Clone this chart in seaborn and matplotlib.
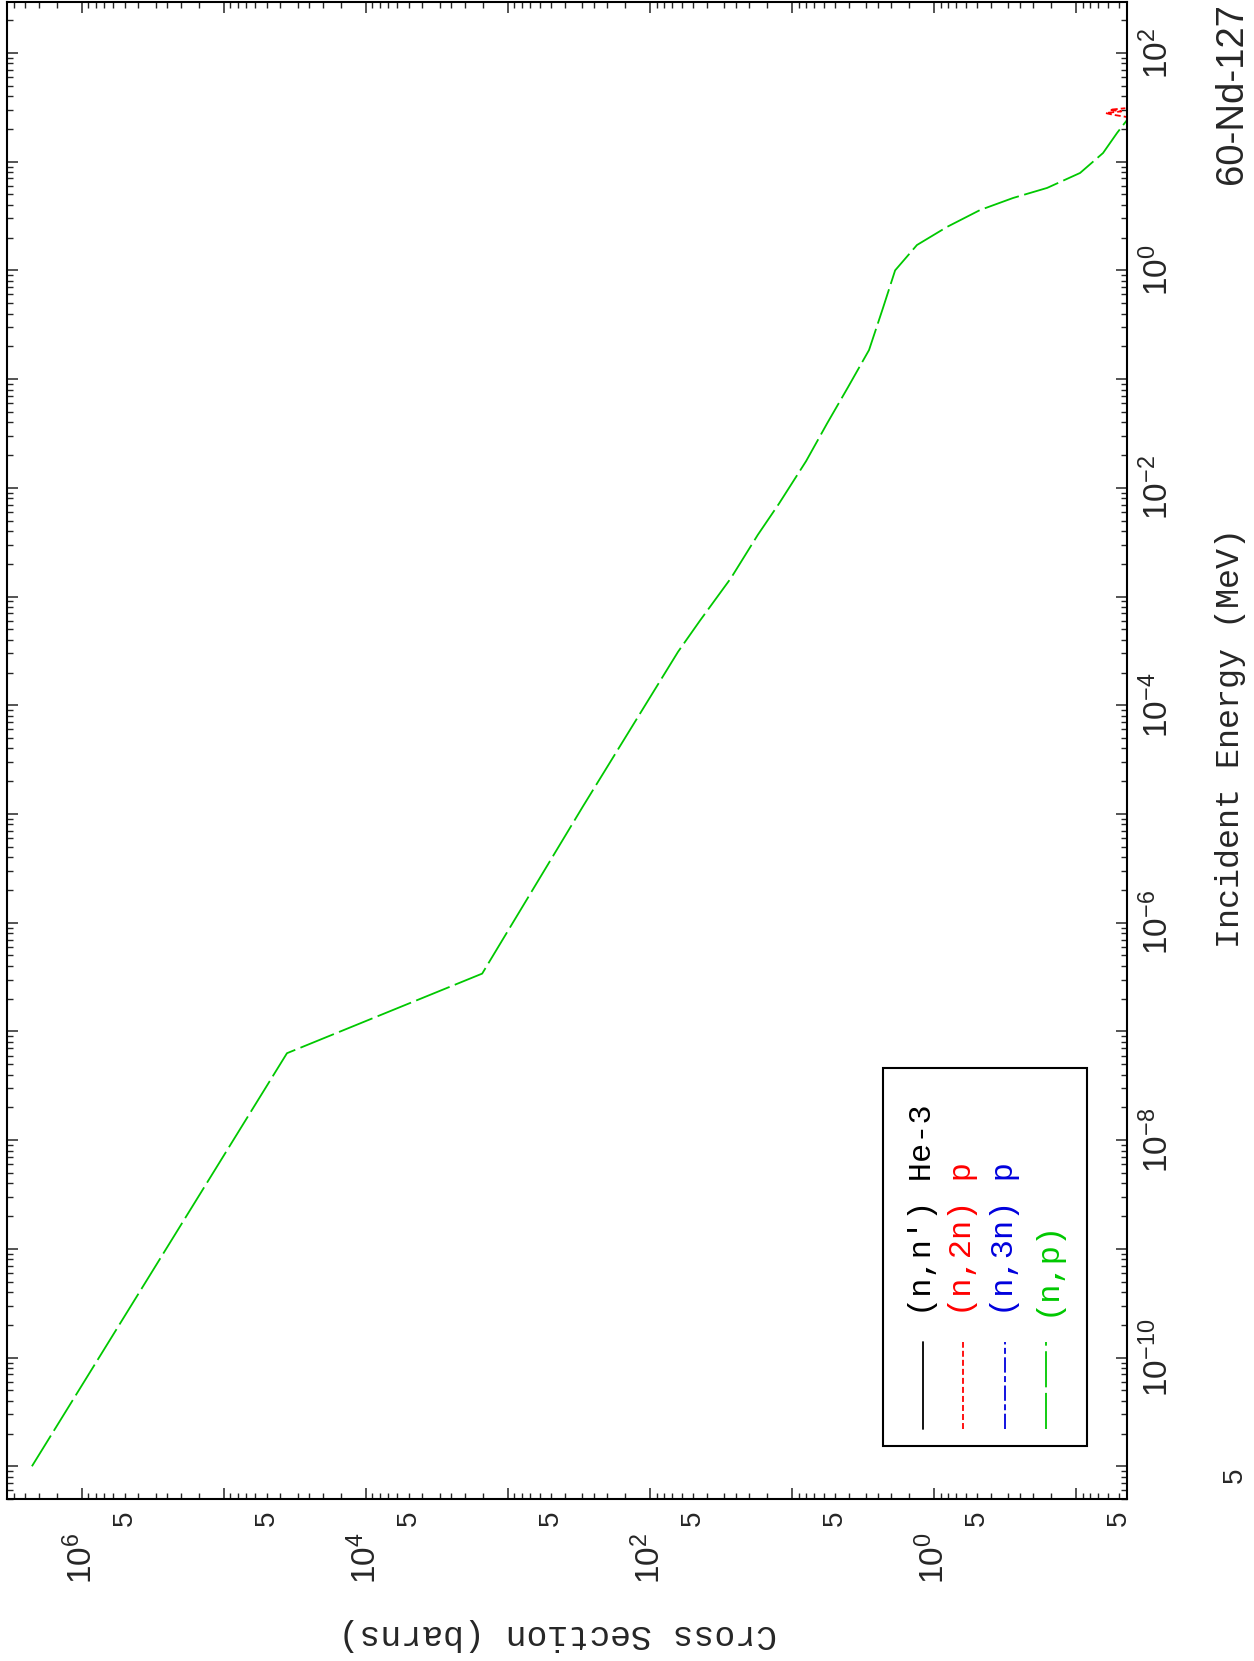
import numpy as np
import matplotlib
matplotlib.use("Agg")
import matplotlib.pyplot as plt
import matplotlib.ticker as mticker
import matplotlib.transforms as mtransforms
from matplotlib.patches import Rectangle
from matplotlib.lines import Line2D
import seaborn as sns

# (n,p) cross section of 60-Nd-127
np_energy = [1.0e-11, 6.3e-8, 3.4e-7, 1.18e-5, 3.1e-4, 6.0e-4, 1.48e-3, 3.7e-3,
             7.1e-3, 1.76e-2, 3.9e-2, 8.4e-2, 0.185, 0.45, 1.0, 1.71, 2.51,
             3.59, 4.63, 5.73, 7.87, 12.0, 18.4, 24.2, 33.0]
np_xs = [2.25e6, 3.6e4, 1.52e3, 296, 63.5, 44.5, 26.9, 17.4,
         12.4, 7.96, 5.67, 4.04, 2.87, 2.29, 1.88, 1.32, 0.81,
         0.474, 0.278, 0.160, 0.0937, 0.0646, 0.0514, 0.0437, 0.035]

# (n,2n) only shows up as a tiny piece at the right edge
n2n_energy = [25.5, 27.0, 28.0, 29.0, 30.0, 31.0]
n2n_xs = [0.042, 0.055, 0.062, 0.048, 0.058, 0.045]

legend_labels = ["(n,n') He-3", "(n,2n) p", "(n,3n) p", "(n,p)"]
legend_colors = ["black", "#ff0000", "#0000dd", "#00c800"]
legend_styles = ["-", (0, (4.3, 2.2)), (0, (11, 2.5, 4.3, 2.5)), (0, (26, 4))]

sns.set_style("white")
plt.rcParams['font.family'] = ['Liberation Sans', 'DejaVu Sans']
plt.rcParams['mathtext.fontset'] = 'custom'
plt.rcParams['mathtext.rm'] = 'Liberation Sans'
plt.rcParams['mathtext.default'] = 'regular'
plt.rcParams['lines.scale_dashes'] = False

W, H = 1254, 1661
left, right, top, bottom = 7, 1127, 2, 1499
fig = plt.figure(figsize=(W / 100, H / 100), dpi=100)
ax = fig.add_axes([left / W, 1 - bottom / H, (right - left) / W, (bottom - top) / H])
ax.set_xscale('log')
ax.set_yscale('log')

# the plot is turned on its side: cross section runs along x (reversed), energy up y
sns.lineplot(x=np_xs, y=np_energy, sort=False, estimator=None, ax=ax,
             color=legend_colors[3], lw=1.3, linestyle=legend_styles[3])
sns.lineplot(x=n2n_xs, y=n2n_energy, sort=False, estimator=None, ax=ax,
             color=legend_colors[1], lw=1.3, linestyle=legend_styles[1])

ax.set_xlim(3.37e6, 0.0438)
ax.set_ylim(5.0e-12, 294)


def even_decade(v, pos):
    e = int(round(np.log10(v)))
    return f"$10^{{{e}}}$" if e % 2 == 0 else ""


def five_only(v, pos):
    m = v / 10 ** np.floor(np.log10(v) + 1e-9)
    return "5" if abs(m - 5) < 0.01 else ""


ax.xaxis.set_major_locator(mticker.LogLocator(base=10, numticks=50))
ax.xaxis.set_minor_locator(mticker.LogLocator(base=10, subs=[1.5, 2, 2.5, 3, 4, 5, 6, 7, 8, 9], numticks=50))
ax.xaxis.set_major_formatter(mticker.FuncFormatter(even_decade))
ax.xaxis.set_minor_formatter(mticker.FuncFormatter(five_only))

ax.yaxis.set_major_locator(mticker.LogLocator(base=10, numticks=50))
ax.yaxis.set_minor_locator(mticker.LogLocator(base=10, subs=np.arange(2, 10), numticks=50))
ax.yaxis.set_major_formatter(mticker.FuncFormatter(even_decade))
ax.yaxis.set_minor_formatter(mticker.NullFormatter())

ax.tick_params(which='both', direction='in', top=True, bottom=True, left=True, right=True,
               labelbottom=True, labelleft=False, labelright=True, labeltop=False)
ax.tick_params(which='major', length=8, width=1.1, labelsize=24)
ax.tick_params(which='minor', length=4.3, width=1.0, labelsize=20)
ax.tick_params(axis='x', which='major', pad=24, labelrotation=90)
ax.tick_params(axis='x', which='minor', pad=8, labelrotation=90)
ax.tick_params(axis='y', which='major', pad=10, labelrotation=90)
for lab in ax.get_yticklabels():
    lab.set_va('center')
for s in ax.spines.values():
    s.set_linewidth(1.5)
    s.set_color('black')
ax.grid(False)

# the lone "5" at the low end of the energy axis
five_tr = mtransforms.blended_transform_factory(ax.transAxes, ax.transData) + \
    mtransforms.ScaledTranslation(68 / 72, 17 / 72, fig.dpi_scale_trans)
ax.text(1, 5.0e-12, "5", transform=five_tr, rotation=90, ha='left', va='center',
        fontsize=20, clip_on=False)

# legend, drawn sideways like the rest
legend_x = [0.818, 0.854, 0.891, 0.928]
for lx, lab, col, ls in zip(legend_x, legend_labels, legend_colors, legend_styles):
    ax.add_line(Line2D([lx, lx], [0.0467, 0.1048], transform=ax.transAxes,
                       color=col, lw=1.3, linestyle=ls))
    ax.text(lx, 0.1222, lab, transform=ax.transAxes, rotation=90, ha='center',
            va='bottom', color=col, family='Liberation Mono', size=23)
ax.add_patch(Rectangle((0.782, 0.0354), 0.182, 0.2523, transform=ax.transAxes,
                       fill=False, lw=1.5, ec='black'))

fig.text(1231 / W, 1 - 738 / H, "Incident Energy (MeV)", rotation=90, ha='center',
         va='center', family='Liberation Mono', size=24)
fig.text(558 / W, 1 - 1634 / H, "Cross Section (barns)", rotation=180, ha='center',
         va='center', family='Liberation Mono', size=25)
fig.text(1232 / W, 1 - 184 / H, "60-Nd-127", rotation=90, ha='center', va='bottom', size=27.5)

fig.savefig("out.png", dpi=100)
